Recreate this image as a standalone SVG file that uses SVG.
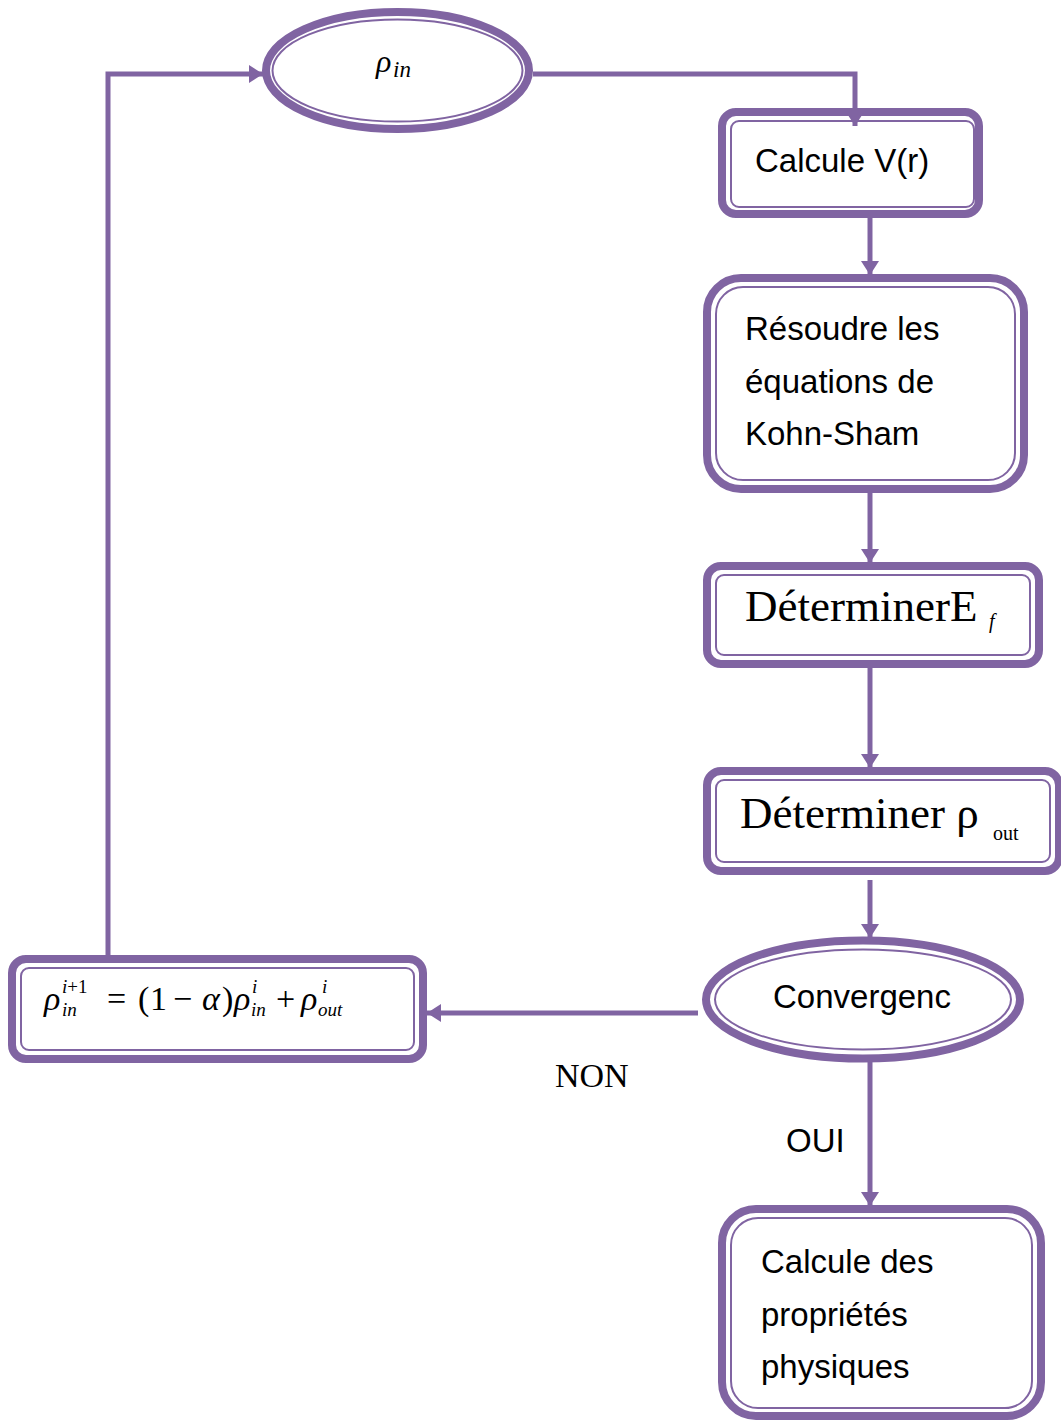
<svg xmlns="http://www.w3.org/2000/svg" width="1061" height="1420" viewBox="0 0 1061 1420">
<style>
.outer{fill:#fff;stroke:#8064A2;stroke-width:8}
.inner{fill:none;stroke:#8064A2;stroke-width:2}
.conn{fill:none;stroke:#8064A2;stroke-width:5}
.sans{font-family:"Liberation Sans",Arial,sans-serif;font-size:33px;fill:#000}
.serif{font-family:"Liberation Serif","Times New Roman",serif;fill:#000}
.math{font-family:"Liberation Serif","Times New Roman",serif;font-style:italic;fill:#000}
.up{font-style:normal}
.sc{font-size:19px}
</style>
<defs>
<marker id="arr" markerUnits="userSpaceOnUse" markerWidth="16" markerHeight="18" refX="14" refY="9" orient="auto">
<path d="M0,0 L14,9 L0,18 Z" fill="#8064A2"/>
</marker>
</defs>
<g id="rho_in">
<ellipse class="outer" cx="397.5" cy="70.5" rx="131.5" ry="58.5"/>
<ellipse class="inner" cx="397.5" cy="70.5" rx="125" ry="51"/>
<text class="math" x="376" y="72" font-size="32">ρ</text>
<text class="math" x="393" y="77" font-size="23">in</text>
</g>
<g id="calcule_v">
<rect class="outer" x="722" y="112" width="257" height="102" rx="14"/>
<rect class="inner" x="731" y="121" width="243" height="86" rx="8"/>
<text class="sans" x="755" y="172">Calcule V(r)</text>
</g>
<g id="resoudre">
<rect class="outer" x="707" y="278" width="317" height="211" rx="34"/>
<rect class="inner" x="716" y="287" width="299" height="193" rx="27"/>
<text class="sans" x="745" y="340">Résoudre les</text>
<text class="sans" x="745" y="393">équations de</text>
<text class="sans" x="745" y="445">Kohn-Sham</text>
</g>
<g id="determiner_ef">
<rect class="outer" x="707" y="566" width="332" height="98" rx="14"/>
<rect class="inner" x="716" y="575" width="314" height="80" rx="8"/>
<text class="serif" x="745" y="621" font-size="45">DéterminerE</text>
<text class="math" x="989" y="628" font-size="20">f</text>
</g>
<g id="determiner_rho">
<rect class="outer" x="707" y="771" width="352" height="100" rx="14"/>
<rect class="inner" x="716" y="780" width="334" height="82" rx="8"/>
<text class="serif" x="740" y="828" font-size="45">Déterminer ρ</text>
<text class="serif" x="993" y="840" font-size="20">out</text>
</g>
<g id="convergence">
<ellipse class="outer" cx="863" cy="999.5" rx="157" ry="59"/>
<ellipse class="inner" cx="863" cy="999.5" rx="148" ry="50"/>
<text class="sans" x="862" y="1008" text-anchor="middle">Convergenc</text>
</g>
<g id="formule">
<rect class="outer" x="12" y="959" width="411" height="100" rx="14"/>
<rect class="inner" x="21" y="968" width="393" height="82" rx="8"/>
<g class="math" font-size="34">
<text x="44" y="1010">ρ</text>
<text x="62" y="993" class="sc">i<tspan class="up">+1</tspan></text>
<text x="62" y="1016" class="sc">in</text>
<text x="107" y="1010" class="up">=</text>
<text x="138" y="1010" class="up">(</text>
<text x="150" y="1010" class="up">1</text>
<text x="173" y="1010" class="up">−</text>
<text x="202" y="1010">α</text>
<text x="222" y="1010" class="up">)</text>
<text x="234" y="1010">ρ</text>
<text x="252" y="993" class="sc">i</text>
<text x="251" y="1016" class="sc">in</text>
<text x="276" y="1010" class="up">+</text>
<text x="301" y="1010">ρ</text>
<text x="322" y="993" class="sc">i</text>
<text x="318" y="1016" class="sc">out</text>
</g>
</g>
<g id="calcule_props">
<rect class="outer" x="722" y="1209" width="319" height="207" rx="34"/>
<rect class="inner" x="731" y="1218" width="301" height="190" rx="27"/>
<text class="sans" x="761" y="1273">Calcule des</text>
<text class="sans" x="761" y="1326">propriétés</text>
<text class="sans" x="761" y="1378">physiques</text>
</g>
<g id="labels">
<text class="serif" x="555" y="1087" font-size="34">NON</text>
<text class="sans" x="786" y="1152">OUI</text>
</g>
<g id="connectors">
<polyline class="conn" points="533,74 855,74 855,126" marker-end="url(#arr)"/>
<line class="conn" x1="870" y1="218" x2="870" y2="275" marker-end="url(#arr)"/>
<line class="conn" x1="870" y1="493" x2="870" y2="563" marker-end="url(#arr)"/>
<line class="conn" x1="870" y1="668" x2="870" y2="768" marker-end="url(#arr)"/>
<line class="conn" x1="870" y1="880" x2="870" y2="938" marker-end="url(#arr)"/>
<line class="conn" x1="698" y1="1013" x2="427" y2="1013" marker-end="url(#arr)"/>
<line class="conn" x1="870" y1="1062" x2="870" y2="1206" marker-end="url(#arr)"/>
<polyline class="conn" points="108,955 108,74 263,74" marker-end="url(#arr)"/>
</g>
</svg>
